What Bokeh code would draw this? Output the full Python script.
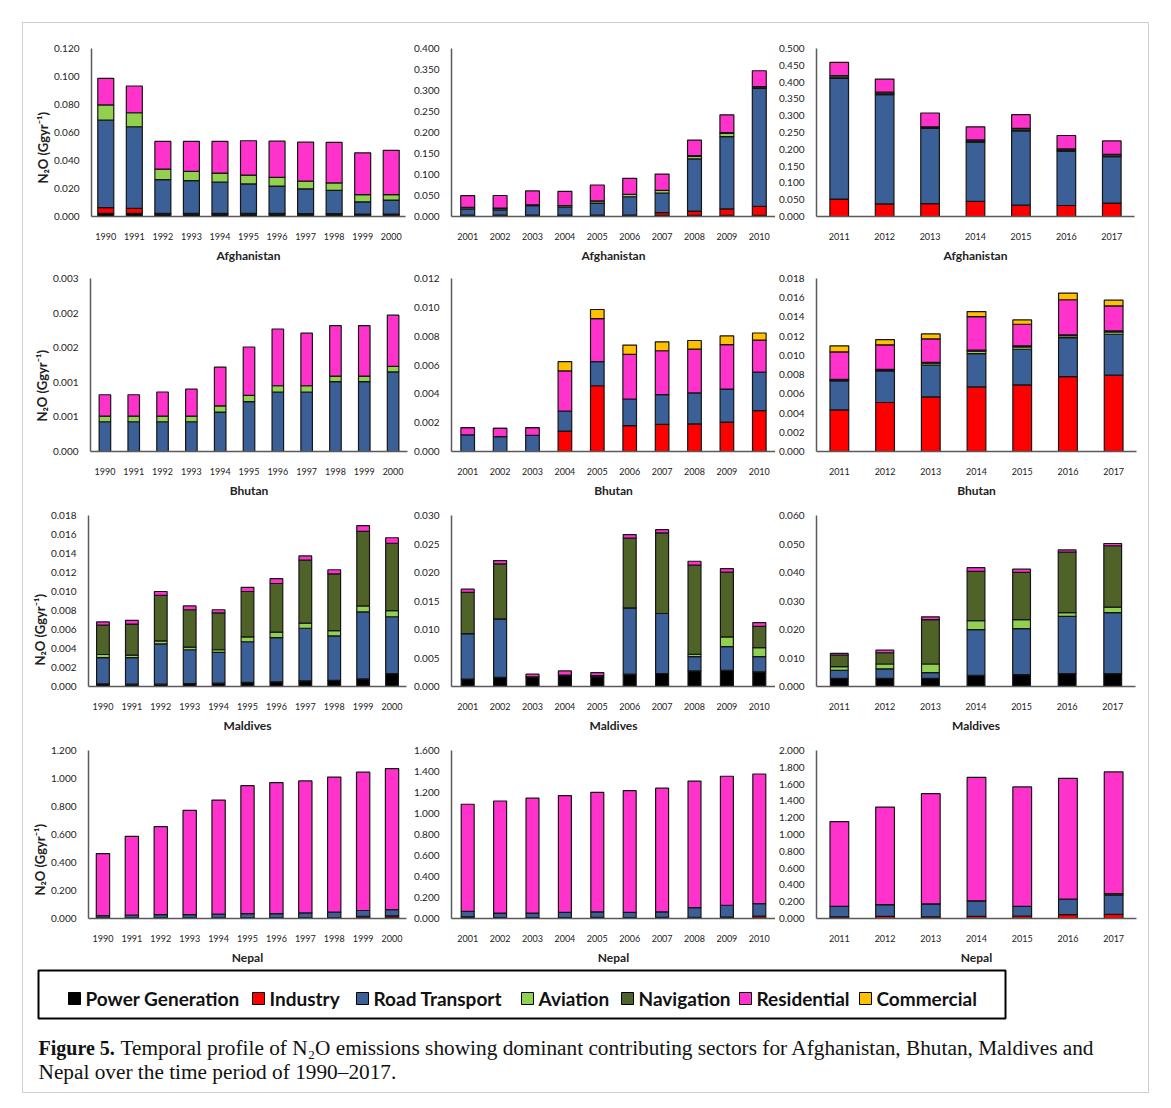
from bokeh.core.properties import value
from bokeh.embed import file_html
from bokeh.layouts import column, row
from bokeh.models import ColumnDataSource, FixedTicker, PrintfTickFormatter, Range1d, Title
from bokeh.plotting import figure
from bokeh.resources import INLINE

# ---------------------------------------------------------------- sectors
SECTORS = ["Power Generation", "Industry", "Road Transport", "Aviation",
           "Navigation", "Residential", "Commercial"]
SECTOR_COLORS = ["#000000", "#FF0000", "#3B5F97", "#92D050",
                 "#4F6228", "#FF33CC", "#FFC000"]

YEARS_A = ["1990", "1991", "1992", "1993", "1994", "1995", "1996", "1997", "1998", "1999", "2000"]
YEARS_B = ["2001", "2002", "2003", "2004", "2005", "2006", "2007", "2008", "2009", "2010"]
YEARS_C = ["2011", "2012", "2013", "2014", "2015", "2016", "2017"]

# ---------------------------------------------------------------- Afghanistan (Gg/yr)
AFG_A_POWER = [0.0022, 0.0022, 0.0015, 0.0015, 0.0015, 0.0015, 0.0015, 0.0013, 0.0013, 0.0012, 0.0012]
AFG_A_INDUSTRY = [0.0041, 0.0036, 0.0008, 0.0008, 0.0008, 0.0008, 0.0008, 0.0008, 0.0008, 0.0006, 0.0006]
AFG_A_ROAD = [0.0625, 0.0583, 0.0240, 0.0233, 0.0222, 0.0210, 0.0194, 0.0177, 0.0165, 0.0087, 0.0099]
AFG_A_AVIATION = [0.0109, 0.0100, 0.0075, 0.0066, 0.0065, 0.0063, 0.0063, 0.0054, 0.0054, 0.0051, 0.0039]
AFG_A_RESIDENTIAL = [0.0189, 0.0191, 0.0198, 0.0214, 0.0226, 0.0245, 0.0258, 0.0279, 0.0289, 0.0299, 0.0317]

AFG_B_POWER = [0.003, 0.003, 0.003, 0.003, 0.003, 0.003, 0.003, 0.003, 0.003, 0.003]
AFG_B_INDUSTRY = [0.0005, 0.0005, 0.0005, 0.0005, 0.0005, 0.0005, 0.006, 0.010, 0.015, 0.021]
AFG_B_ROAD = [0.0145, 0.0125, 0.0225, 0.0185, 0.0285, 0.0435, 0.047, 0.124, 0.172, 0.281]
AFG_B_AVIATION = [0.004, 0.004, 0.002, 0.004, 0.005, 0.006, 0.006, 0.006, 0.008, 0.001]
AFG_B_NAVIGATION = [0, 0, 0, 0, 0, 0, 0, 0.002, 0.002, 0.003]
AFG_B_RESIDENTIAL = [0.0276, 0.030, 0.033, 0.034, 0.038, 0.038, 0.039, 0.037, 0.042, 0.038]

AFG_C_INDUSTRY = [0.052, 0.0376, 0.0385, 0.045, 0.0337, 0.0328, 0.040]
AFG_C_ROAD = [0.359, 0.3254, 0.2235, 0.1766, 0.2213, 0.1618, 0.138]
AFG_C_AVIATION = [0.002, 0.002, 0.002, 0.002, 0.002, 0.002, 0.002]
AFG_C_NAVIGATION = [0.006, 0.005, 0.003, 0.0044, 0.005, 0.0044, 0.005]
AFG_C_RESIDENTIAL = [0.040, 0.039, 0.041, 0.039, 0.041, 0.040, 0.040]

# ---------------------------------------------------------------- Bhutan
BTN_A_ROAD = [0.00043, 0.00043, 0.00043, 0.00043, 0.00057, 0.00072, 0.00086, 0.00086, 0.00101, 0.00101, 0.00115]
BTN_A_AVIATION = [0.00008, 0.00008, 0.00008, 0.00008, 0.00009, 0.00009, 0.00009, 0.00009, 0.00008, 0.00008, 0.00008]
BTN_A_RESIDENTIAL = [0.00031, 0.00031, 0.00035, 0.00039, 0.00056, 0.0007, 0.00082, 0.00076, 0.00073, 0.00073, 0.00074]

BTN_B_INDUSTRY = [0, 0, 0, 0.00142, 0.00456, 0.0018, 0.00188, 0.00192, 0.00204, 0.00284]
BTN_B_ROAD = [0.00115, 0.00103, 0.00112, 0.00138, 0.00167, 0.00184, 0.00206, 0.00214, 0.00229, 0.00266]
BTN_B_RESIDENTIAL = [0.0005, 0.00057, 0.00053, 0.00279, 0.00298, 0.0031, 0.00305, 0.00304, 0.00309, 0.00222]
BTN_B_COMMERCIAL = [0, 0, 0, 0.00064, 0.00064, 0.00064, 0.00062, 0.0006, 0.0006, 0.0005]

BTN_C_INDUSTRY = [0.00433, 0.0051, 0.00568, 0.00672, 0.00693, 0.0078, 0.00794]
BTN_C_ROAD = [0.00302, 0.00329, 0.0033, 0.00347, 0.00371, 0.00405, 0.00426]
BTN_C_AVIATION = [0.00005, 0.00005, 0.0002, 0.00025, 0.00025, 0.0002, 0.00025]
BTN_C_NAVIGATION = [0.0001, 0.0001, 0.0001, 0.0001, 0.0001, 0.0001, 0.0001]
BTN_C_RESIDENTIAL = [0.00286, 0.00256, 0.00243, 0.0035, 0.00225, 0.00364, 0.0026]
BTN_C_COMMERCIAL = [0.00063, 0.00055, 0.00052, 0.00052, 0.00045, 0.00069, 0.00059]

# ---------------------------------------------------------------- Maldives
MDV_A_POWER = [0.00027, 0.00025, 0.00025, 0.0003, 0.00035, 0.00045, 0.0005, 0.0006, 0.00065, 0.0008, 0.00135]
MDV_A_ROAD = [0.00276, 0.00278, 0.00423, 0.00357, 0.00325, 0.00426, 0.00465, 0.00553, 0.00467, 0.00705, 0.00599]
MDV_A_AVIATION = [0.00034, 0.00027, 0.00033, 0.00027, 0.00027, 0.00051, 0.00057, 0.00054, 0.00057, 0.00063, 0.00064]
MDV_A_NAVIGATION = [0.00309, 0.00327, 0.00479, 0.00394, 0.00387, 0.00478, 0.00512, 0.00663, 0.00596, 0.00785, 0.0071]
MDV_A_RESIDENTIAL = [0.00034, 0.0004, 0.0004, 0.0004, 0.00034, 0.00044, 0.00051, 0.00044, 0.00044, 0.00061, 0.00058]

MDV_B_POWER = [0.0013, 0.0016, 0.0016, 0.0019, 0.0017, 0.00216, 0.00228, 0.00273, 0.00285, 0.00256]
MDV_B_ROAD = [0.00798, 0.01025, 0.0001, 0.0001, 0.0002, 0.01162, 0.01053, 0.00251, 0.00415, 0.00268]
MDV_B_AVIATION = [0, 0, 0, 0, 0, 0, 0, 0.0004, 0.00171, 0.00159]
MDV_B_NAVIGATION = [0.00723, 0.00968, 0, 0, 0, 0.01225, 0.01413, 0.01564, 0.01134, 0.00371]
MDV_B_RESIDENTIAL = [0.00057, 0.00057, 0.00046, 0.00073, 0.00055, 0.00062, 0.00057, 0.00069, 0.00062, 0.00068]

MDV_C_POWER = [0.00282, 0.00282, 0.00282, 0.00395, 0.00417, 0.00451, 0.00451]
MDV_C_ROAD = [0.00282, 0.00338, 0.00203, 0.016, 0.01612, 0.02007, 0.02142]
MDV_C_AVIATION = [0.00135, 0.00169, 0.00304, 0.00316, 0.00316, 0.00135, 0.00192]
MDV_C_NAVIGATION = [0.00406, 0.00395, 0.01556, 0.01725, 0.01657, 0.0212, 0.02153]
MDV_C_RESIDENTIAL = [0.00056, 0.0009, 0.00101, 0.00135, 0.00113, 0.00078, 0.00079]

# ---------------------------------------------------------------- Nepal
NPL_A_POWER = [0.004, 0.004, 0.004, 0.004, 0.004, 0.004, 0.004, 0.004, 0.004, 0.004, 0.004]
NPL_A_INDUSTRY = [0, 0, 0, 0, 0, 0, 0, 0, 0, 0.012, 0.015]
NPL_A_ROAD = [0.016, 0.021, 0.024, 0.024, 0.028, 0.031, 0.031, 0.036, 0.041, 0.041, 0.045]
NPL_A_RESIDENTIAL = [0.444, 0.562, 0.628, 0.745, 0.814, 0.914, 0.936, 0.943, 0.965, 0.988, 1.006]

NPL_B_POWER = [0.004, 0.004, 0.004, 0.004, 0.004, 0.004, 0.004, 0.004, 0.004, 0.004]
NPL_B_INDUSTRY = [0.012, 0.005, 0.005, 0.005, 0.008, 0.005, 0.008, 0.008, 0.01, 0.02]
NPL_B_ROAD = [0.051, 0.043, 0.043, 0.049, 0.052, 0.049, 0.052, 0.092, 0.112, 0.117]
NPL_B_RESIDENTIAL = [1.021, 1.067, 1.094, 1.113, 1.138, 1.159, 1.177, 1.205, 1.229, 1.235]

NPL_C_INDUSTRY = [0.02, 0.025, 0.02, 0.025, 0.03, 0.045, 0.05]
NPL_C_ROAD = [0.125, 0.139, 0.155, 0.185, 0.115, 0.187, 0.228]
NPL_C_NAVIGATION = [0, 0, 0, 0, 0, 0, 0.019]
NPL_C_RESIDENTIAL = [1.009, 1.162, 1.311, 1.47, 1.421, 1.437, 1.448]

# ---------------------------------------------------------------- y ticks
TICKS_AFG_A = [0.0, 0.02, 0.04, 0.06, 0.08, 0.10, 0.12]
TICKS_AFG_B = [0.0, 0.05, 0.10, 0.15, 0.20, 0.25, 0.30, 0.35, 0.40]
TICKS_AFG_C = [0.0, 0.05, 0.10, 0.15, 0.20, 0.25, 0.30, 0.35, 0.40, 0.45, 0.50]
TICKS_BTN_A = [0.0, 0.0005, 0.001, 0.0015, 0.002, 0.0025]
TICKS_BTN_B = [0.0, 0.002, 0.004, 0.006, 0.008, 0.010, 0.012]
TICKS_BTN_C = [0.0, 0.002, 0.004, 0.006, 0.008, 0.010, 0.012, 0.014, 0.016, 0.018]
TICKS_MDV_A = [0.0, 0.002, 0.004, 0.006, 0.008, 0.010, 0.012, 0.014, 0.016, 0.018]
TICKS_MDV_B = [0.0, 0.005, 0.010, 0.015, 0.020, 0.025, 0.030]
TICKS_MDV_C = [0.0, 0.010, 0.020, 0.030, 0.040, 0.050, 0.060]
TICKS_NPL_A = [0.0, 0.2, 0.4, 0.6, 0.8, 1.0, 1.2]
TICKS_NPL_B = [0.0, 0.2, 0.4, 0.6, 0.8, 1.0, 1.2, 1.4, 1.6]
TICKS_NPL_C = [0.0, 0.2, 0.4, 0.6, 0.8, 1.0, 1.2, 1.4, 1.6, 1.8, 2.0]

Y_LABEL = "N\u2082O (Ggyr\u207b\u00b9)"
CAPTION_HEAD = "Figure 5."
CAPTION_LINE1 = ("Temporal profile of N\u2082O emissions showing dominant contributing sectors "
                 "for Afghanistan, Bhutan, Maldives and")
CAPTION_LINE2 = "Nepal over the time period of 1990\u20132017."

SANS = "Lato"
SERIF = "Liberation Serif"
AXIS_COLOR = "#5a5a5a"
TEXT_COLOR = "#222222"
FRAME = "#cfcfcf"


def make_panel(years, series, ticks, country, bar_width, width, height, border,
               ylabel_offset=None):
    present = [s for s in SECTORS if s in series]
    data = {"year": years}
    for s in present:
        data[s] = series[s]
    src = ColumnDataSource(data)

    left, right, top, bottom = border
    p = figure(x_range=years, y_range=Range1d(0, ticks[-1]),
               width=width, height=height, output_backend="svg",
               toolbar_location=None, min_border_left=left,
               min_border_right=right, min_border_top=top,
               min_border_bottom=bottom)
    p.vbar_stack(present, x="year", width=bar_width, source=src,
                 fill_color=[SECTOR_COLORS[SECTORS.index(s)] for s in present],
                 line_color="#151515", line_width=1.2)

    p.outline_line_color = None
    p.border_fill_color = None
    p.background_fill_color = None
    p.xgrid.visible = False
    p.ygrid.visible = False

    for ax in (p.xaxis, p.yaxis):
        ax.axis_line_color = AXIS_COLOR
        ax.axis_line_width = 1.5
        ax.major_tick_line_color = None
        ax.minor_tick_line_color = None
        ax.major_label_text_font = SANS
        ax.major_label_text_color = TEXT_COLOR

    p.xaxis.major_label_text_font_size = "9px"
    p.xaxis.major_label_standoff = 10
    p.xaxis.axis_label = country
    p.xaxis.axis_label_text_font = SANS
    p.xaxis.axis_label_text_font_size = "12px"
    p.xaxis.axis_label_text_font_style = "bold"
    p.xaxis.axis_label_text_color = TEXT_COLOR
    p.xaxis.axis_label_standoff = 5

    p.yaxis.ticker = FixedTicker(ticks=ticks)
    p.yaxis.formatter = PrintfTickFormatter(format="%.3f")
    p.yaxis.major_label_text_font_size = "10px"
    p.yaxis.major_label_standoff = 6

    if ylabel_offset is not None:
        # vertical quantity label, anchored a fixed distance above the frame bottom
        p.add_layout(Title(text=Y_LABEL, align="left", offset=ylabel_offset,
                           standoff=0, text_font=SANS, text_font_size="13px",
                           text_font_style="bold", text_color=TEXT_COLOR), "left")
    return p


# ---------------------------------------------------------------- panels
afg_a = make_panel(YEARS_A, {"Power Generation": AFG_A_POWER, "Industry": AFG_A_INDUSTRY,
                             "Road Transport": AFG_A_ROAD, "Aviation": AFG_A_AVIATION,
                             "Residential": AFG_A_RESIDENTIAL},
                   TICKS_AFG_A, "Afghanistan", 0.56, 410, 265, (91, 5, 48, 45), 33)
afg_b = make_panel(YEARS_B, {"Power Generation": AFG_B_POWER, "Industry": AFG_B_INDUSTRY,
                             "Road Transport": AFG_B_ROAD, "Aviation": AFG_B_AVIATION,
                             "Navigation": AFG_B_NAVIGATION, "Residential": AFG_B_RESIDENTIAL},
                   TICKS_AFG_B, "Afghanistan", 0.43, 365, 265, (35, 0, 43, 48))
afg_c = make_panel(YEARS_C, {"Industry": AFG_C_INDUSTRY, "Road Transport": AFG_C_ROAD,
                             "Aviation": AFG_C_AVIATION, "Navigation": AFG_C_NAVIGATION,
                             "Residential": AFG_C_RESIDENTIAL},
                   TICKS_AFG_C, "Afghanistan", 0.41, 396, 265, (34, 37, 43, 49))

btn_a = make_panel(YEARS_A, {"Road Transport": BTN_A_ROAD, "Aviation": BTN_A_AVIATION,
                             "Residential": BTN_A_RESIDENTIAL},
                   TICKS_BTN_A, "Bhutan", 0.40, 410, 235, (90, 3, 13, 47), 30)
btn_b = make_panel(YEARS_B, {"Industry": BTN_B_INDUSTRY, "Road Transport": BTN_B_ROAD,
                             "Residential": BTN_B_RESIDENTIAL, "Commercial": BTN_B_COMMERCIAL},
                   TICKS_BTN_B, "Bhutan", 0.42, 365, 235, (35, 0, 13, 48))
btn_c = make_panel(YEARS_C, {"Industry": BTN_C_INDUSTRY, "Road Transport": BTN_C_ROAD,
                             "Aviation": BTN_C_AVIATION, "Navigation": BTN_C_NAVIGATION,
                             "Residential": BTN_C_RESIDENTIAL, "Commercial": BTN_C_COMMERCIAL},
                   TICKS_BTN_C, "Bhutan", 0.41, 396, 235, (36, 35, 13, 49))

mdv_a = make_panel(YEARS_A, {"Power Generation": MDV_A_POWER, "Road Transport": MDV_A_ROAD,
                             "Aviation": MDV_A_AVIATION, "Navigation": MDV_A_NAVIGATION,
                             "Residential": MDV_A_RESIDENTIAL},
                   TICKS_MDV_A, "Maldives", 0.44, 410, 235, (88, 4, 15, 42), 21)
mdv_b = make_panel(YEARS_B, {"Power Generation": MDV_B_POWER, "Road Transport": MDV_B_ROAD,
                             "Aviation": MDV_B_AVIATION, "Navigation": MDV_B_NAVIGATION,
                             "Residential": MDV_B_RESIDENTIAL},
                   TICKS_MDV_B, "Maldives", 0.40, 365, 235, (33, 0, 14, 45))
mdv_c = make_panel(YEARS_C, {"Power Generation": MDV_C_POWER, "Road Transport": MDV_C_ROAD,
                             "Aviation": MDV_C_AVIATION, "Navigation": MDV_C_NAVIGATION,
                             "Residential": MDV_C_RESIDENTIAL},
                   TICKS_MDV_C, "Maldives", 0.39, 396, 235, (37, 36, 13, 45))

npl_a = make_panel(YEARS_A, {"Power Generation": NPL_A_POWER, "Industry": NPL_A_INDUSTRY,
                             "Road Transport": NPL_A_ROAD, "Residential": NPL_A_RESIDENTIAL},
                   TICKS_NPL_A, "Nepal", 0.46, 410, 232, (88, 4, 15, 42), 23)
npl_b = make_panel(YEARS_B, {"Power Generation": NPL_B_POWER, "Industry": NPL_B_INDUSTRY,
                             "Road Transport": NPL_B_ROAD, "Residential": NPL_B_RESIDENTIAL},
                   TICKS_NPL_B, "Nepal", 0.40, 365, 232, (35, 0, 13, 46))
npl_c = make_panel(YEARS_C, {"Industry": NPL_C_INDUSTRY, "Road Transport": NPL_C_ROAD,
                             "Navigation": NPL_C_NAVIGATION, "Residential": NPL_C_RESIDENTIAL},
                   TICKS_NPL_C, "Nepal", 0.41, 396, 232, (39, 35, 14, 44))

# ---------------------------------------------------------------- legend and caption
LEGEND_SWATCH_X = [74, 258, 362, 527, 627, 745, 865]
LEGEND_Y = 31

foot = figure(width=1171, height=141, x_range=Range1d(0, 1171), y_range=Range1d(141, 0),
              output_backend="svg", toolbar_location=None, min_border=0,
              x_axis_type=None, y_axis_type=None)
foot.outline_line_color = None
foot.border_fill_color = None
foot.background_fill_color = None
foot.grid.visible = False

foot.quad(left=[38], right=[1005], top=[3], bottom=[51], fill_color=None,
          line_color="#000000", line_width=2)
foot.rect(x=LEGEND_SWATCH_X, y=[LEGEND_Y] * len(SECTORS), width=12, height=12,
          fill_color=SECTOR_COLORS, line_color="#000000", line_width=1)
foot.text(x=[sx + 11 for sx in LEGEND_SWATCH_X], y=[LEGEND_Y] * len(SECTORS), text=SECTORS,
          text_font=value(SANS), text_font_size=value("19px"), text_font_style="bold",
          text_baseline="middle", text_color="#111111")

CAPTION_SIZE = "21.3px"
foot.text(x=[38], y=[80], text=[CAPTION_HEAD], text_font=value(SERIF),
          text_font_size=value("20px"), text_font_style="bold",
          text_baseline="middle", text_color="#111111")
foot.text(x=[120], y=[80], text=[CAPTION_LINE1], text_font=value(SERIF),
          text_font_size=value(CAPTION_SIZE), text_baseline="middle", text_color="#111111")
foot.text(x=[38], y=[104], text=[CAPTION_LINE2], text_font=value(SERIF),
          text_font_size=value(CAPTION_SIZE), text_baseline="middle", text_color="#111111")

# thin grey frame drawn behind the transparent canvases
FRAME_BG = ", ".join([
    f"linear-gradient({FRAME}, {FRAME}) 22px 22px / 1127px 1px no-repeat",
    f"linear-gradient({FRAME}, {FRAME}) 22px 1092px / 1127px 1px no-repeat",
    f"linear-gradient({FRAME}, {FRAME}) 22px 22px / 1px 1071px no-repeat",
    f"linear-gradient({FRAME}, {FRAME}) 1148px 22px / 1px 1071px no-repeat",
    "#ffffff",
])

page = column(row(afg_a, afg_b, afg_c), row(btn_a, btn_b, btn_c),
              row(mdv_a, mdv_b, mdv_c), row(npl_a, npl_b, npl_c), foot,
              styles={"background": FRAME_BG})

with open("out.html", "w") as f:
    f.write(file_html(page, INLINE))
